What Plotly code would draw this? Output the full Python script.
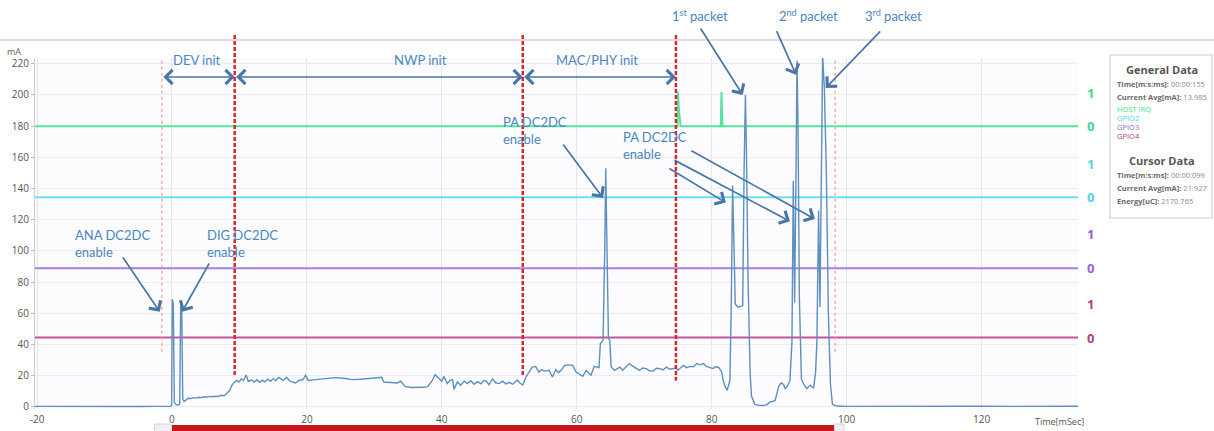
import plotly.graph_objects as go

# ---------------- data ----------------
t_ms = [-20.3, -17, -14, -11, -8, -5, -2.5, -0.2,
        -0.05, 0.05, 0.2, 0.35, 0.6, 0.9, 1.15, 1.3, 1.45, 1.6, 1.8,
        2.1, 2.4, 2.8, 3.2, 3.6, 4.0, 4.4, 4.8, 5.2, 5.6, 6.0, 6.4, 6.8, 7.3, 7.7, 8.1, 8.6, 8.9,
        9.2, 9.6, 9.9, 10.3, 10.6, 11.0, 11.3, 11.8, 12.2, 12.6, 13.0, 13.4, 13.8, 14.2, 14.6,
        15.0, 15.4, 15.8, 16.5, 17.0, 17.5, 18.3, 18.8, 19.4, 19.8, 20.2, 21, 22, 23, 24.2,
        25.5, 26.7, 28, 29.2, 30.3, 31.1, 31.4, 32.2, 33.0, 33.4, 33.9, 34.6, 35.5, 36.6, 37.3,
        37.9, 38.6, 39.0, 39.6, 40.0, 40.3, 40.8, 41.2, 41.6, 41.8, 42.3, 42.8, 43.3, 43.8, 44.3,
        44.8, 45.3, 45.8, 46.2, 46.6, 47.0, 47.5, 48.0, 48.5, 49.0, 49.5, 50.0, 50.5, 51.0, 51.2,
        51.6, 52.0, 52.5, 53.0, 53.4, 53.9, 54.4, 54.8, 55.2, 55.9, 56.4, 56.9, 57.3, 57.7, 58.2,
        58.8, 59.4, 59.9, 60.4, 60.9, 61.4, 62.1, 62.6, 63.3, 63.5, 63.9, 64.15, 64.3, 64.45, 64.7,
        64.9, 65.1, 65.6, 66.0, 66.4, 66.8, 67.3, 67.8, 68.2, 68.6, 69.3, 69.8, 70.3, 70.8, 71.3,
        71.8, 72.3, 72.8, 73.3, 73.8, 74.3, 74.7, 75.0, 75.4, 75.8, 76.3, 76.8, 77.3, 77.8, 78.3,
        78.8, 79.2, 79.5, 80.2, 80.6, 81.0, 81.5, 81.7, 82.0, 82.3, 82.7, 82.9, 83.1, 83.3, 83.5,
        83.9, 84.3, 84.6, 84.8, 85.0, 85.15, 85.4, 85.7, 85.9, 86.4, 87.0, 87.7, 88.2, 88.6, 89.0,
        89.4, 89.9, 90.2, 90.4, 90.7, 90.9, 91.2, 91.6, 91.9, 92.1, 92.3, 92.5, 92.65, 92.8, 93.0,
        93.3, 93.6, 94.1, 94.6, 95.1, 95.4, 95.6, 95.85, 96.05, 96.3, 96.45, 96.7, 97.0, 97.3, 97.6,
        97.9, 98.5, 100, 104, 108, 112, 116, 120, 124, 128, 132, 134.3]
current_ma = [0.4, 0.3, 0.5, 0.3, 0.4, 0.3, 0.4, 0.4,
              1, 69, 66, 3, 1.5, 1.2, 2, 67, 64, 5, 3.5,
              4.9, 5.6, 5.4, 6.0, 5.7, 6.2, 6.0, 6.5, 6.3, 6.8, 6.6, 6.9, 6.7, 7.5, 7.2, 8.5, 11, 14,
              15.6, 17, 16, 18, 17, 20.5, 16.5, 17.3, 16, 17.5, 15.8, 17.2, 16.1, 17.8, 16.4,
              18.2, 16.8, 19, 17, 19, 16.5, 15.4, 17, 17.6, 20.3, 17, 17.4, 17.8, 18.2, 18.8,
              18.4, 17.5, 17.8, 18.2, 18.5, 19, 16, 15.8, 15.2, 15.4, 16.5, 13, 12.5, 12.3, 12.6,
              13, 17, 20.7, 18, 16.5, 19.6, 15, 17, 17.5, 11.3, 16, 14, 16.5, 15, 16.8,
              14.5, 16.2, 14.8, 17, 16.5, 14.2, 18, 15.5, 15, 16.5, 14.8, 15.8, 14.6, 17, 17.3,
              15.2, 14.1, 19.4, 23, 25.6, 26, 22.4, 24, 23, 23.5, 19.2, 24, 22, 23.5, 26.7,
              27, 26.7, 22.4, 21, 19.7, 23.5, 20.3, 26.1, 25.2, 40.6, 42.7, 100, 153, 110, 44,
              42.7, 25.6, 23.5, 24.5, 25.6, 23.5, 26, 27.8, 26.5, 25.2, 23.5, 25, 24.6, 23.2, 23,
              24.8, 24.6, 23.8, 25.6, 24.2, 24.6, 25, 23.5, 25, 26.7, 25.2, 26, 25.8, 27.8, 27,
              27.8, 26, 25.6, 24.6, 25.8, 25.5, 22.4, 17.1, 13, 10.7, 17, 64, 142, 90, 66,
              64, 64.5, 65, 150, 200, 165, 80, 22, 7, 1.7, 1.0, 0.9, 1.5, 3.1, 3.5,
              4, 12.6, 15, 15.4, 14, 11.8, 13, 17, 42, 145, 67, 150, 222, 180, 70,
              18, 15, 11.8, 14, 12, 22, 42, 126, 64, 180, 225, 205, 150, 60, 15,
              1.7, 0.6, 0.4, 0.5, 0.4, 0.5, 0.4, 0.5, 0.4, 0.5, 0.4, 0.5]

host_irq_t = [-21, 74.95, 75.0, 75.15, 75.4, 81.35, 81.45, 81.6, 136]
host_irq_v = [180, 180, 202, 190, 180, 180, 202, 180, 180]
gpio_t = [-21, 136]
gpio2_v = [134.5, 134.5]
gpio3_v = [89, 89]
gpio4_v = [44.5, 44.5]

gpio_names = ["HOST IRQ", "GPIO2", "GPIO3", "GPIO4"]
gpio_colors = ["#55e3a0", "#6ae2e8", "#a47fe8", "#c4559c"]
gpio_label_colors = ["#3ddc8a", "#52d6df", "#9a5fe0", "#b23c8a"]
level0 = [180, 134.5, 89, 44.5]
level1 = [201, 156, 111, 66]

phase_bounds = [-1.5, 9.3, 52.0, 74.7]
phase_names = ["DEV init", "NWP init", "MAC/PHY init"]
phase_label_x = [3.7, 36.8, 63.0]
cursor_t = [-1.5, 98.3]
marker_t = [9.3, 52.0, 74.7]
marker_end_ma = [20, 20, 17]

x_ticks = [-20, 0, 20, 40, 60, 80, 100, 120]
x_tick_text = ["-20", "0", "20", "40", "60", "80", "100", "120"]
y_ticks = [0, 20, 40, 60, 80, 100, 120, 140, 160, 180, 200, 220]

# ---------------- layout geometry ----------------
W, H = 1214, 431
L, R, T, B = 35, 1078, 58, 409
XR = [-20.3, 134.3]
YR = [-1.3, 223.7]


def px(xp):
    return (xp - L) / (R - L)


def py(yp):
    return (B - yp) / (B - T)


def yv(v):
    return (v - YR[0]) / (YR[1] - YR[0])


ARROW = "#4a76a6"
TXT = "#4b86bd"
ANN_FONT = "Lato"

fig = go.Figure()

for v, c in zip([host_irq_v, gpio2_v, gpio3_v, gpio4_v], gpio_colors):
    tt = host_irq_t if v is host_irq_v else gpio_t
    fig.add_trace(go.Scatter(x=tt, y=v, mode="lines", line=dict(color=c, width=2),
                             hoverinfo="skip", showlegend=False))

fig.add_trace(go.Scatter(x=t_ms, y=current_ma, mode="lines",
                         line=dict(color="#5d8fc0", width=1.4), showlegend=False,
                         name="Current"))

shapes = []
# top border of panel
shapes.append(dict(type="line", xref="paper", yref="paper", x0=px(0), x1=px(W),
                   y0=py(40), y1=py(40), line=dict(color="#dedede", width=2)))
# red dashed phase markers
for t, e in zip(marker_t, marker_end_ma):
    shapes.append(dict(type="line", xref="x", yref="paper", x0=t, x1=t, y0=py(35), y1=yv(e),
                       line=dict(color="#d9262b", width=2.5, dash="4px,2px")))
# pale dotted cursors
for t in cursor_t:
    shapes.append(dict(type="line", xref="x", yref="y", x0=t, x1=t, y0=222, y1=35,
                       line=dict(color="#f19a9a", width=1.2, dash="dot")))
# navigator bar
shapes.append(dict(type="rect", xref="x", yref="paper", x0=0, x1=98.2, y0=py(425), y1=py(432),
                   fillcolor="#c8151c", line=dict(width=0)))
for a, b in [(-2.6, -0.1), (98.2, 99.6)]:
    shapes.append(dict(type="rect", xref="x", yref="paper", x0=a, x1=b, y0=py(424), y1=py(432),
                       fillcolor="#f0f0f0", line=dict(color="#d4d4d4", width=1)))
# info panel box
shapes.append(dict(type="rect", xref="paper", yref="paper", x0=px(1110), x1=px(1212),
                   y0=py(218), y1=py(55), fillcolor="white",
                   line=dict(color="#d0d0d0", width=1.2)))

annotations = []


def ann(**kw):
    kw.setdefault("xanchor", "center")
    kw.setdefault("yanchor", "middle")
    annotations.append(kw)


# phase labels and double arrows
for name, lx in zip(phase_names, phase_label_x):
    ann(text=name, x=lx, y=py(60), xref="x", yref="paper", showarrow=False,
        font=dict(family=ANN_FONT, size=13, color=TXT))
for a, b in zip(phase_bounds[:-1], phase_bounds[1:]):
    annotations.append(dict(text="", x=b, y=211.5, ax=a, ay=211.5, xref="x", yref="y",
                            axref="x", ayref="y", showarrow=True, arrowside="end+start",
                            arrowhead=4, startarrowhead=4, arrowsize=1.7, startarrowsize=1.7,
                            arrowwidth=1.6, arrowcolor=ARROW, standoff=0, startstandoff=0))

# callout texts
texts = [("ANA DC2DC<br>enable", -14.7, 104.5),
         ("DIG DC2DC<br>enable", 4.9, 104.5),
         ("PA DC2DC<br>enable", 48.8, 177),
         ("PA DC2DC<br>enable", 66.5, 167.3)]
for tx, x, y in texts:
    ann(text=tx, x=x, y=y, xref="x", yref="y", xanchor="left", align="left", showarrow=False,
        font=dict(family=ANN_FONT, size=13, color=TXT))
packets = [("1<sup>st</sup> packet", 78.3), ("2<sup>nd</sup> packet", 94.4),
           ("3<sup>rd</sup> packet", 106.9)]
for tx, x in packets:
    ann(text=tx, x=x, y=py(16), xref="x", yref="paper", showarrow=False,
        font=dict(family=ANN_FONT, size=13, color=TXT))

# callout arrows: head (data), tail offset (px)
arrows = [(-1.8, 61, -38, -56), (1.5, 61, 28, -50), (63.9, 134, -41, -55),
          (82.1, 131, -58, -35), (91.6, 119, -117, -62), (95.3, 120.5, -125, -69),
          (84.6, 200, -43, -68), (92.5, 213, -20, -45), (96.9, 204.5, 56, -58)]
for hx, hy, ox, oy in arrows:
    annotations.append(dict(text="", x=hx, y=hy, xref="x", yref="y", ax=ox, ay=oy,
                            showarrow=True, arrowhead=4, arrowsize=1.6, arrowwidth=1.7,
                            arrowcolor=ARROW, standoff=0))

# GPIO level labels on the right
for l0, l1, c in zip(level0, level1, gpio_label_colors):
    for lv, s in [(l0, "0"), (l1, "1")]:
        ann(text="<b>%s</b>" % s, x=px(1085), y=lv, xref="paper", yref="y",
            xanchor="left", showarrow=False, font=dict(family="Open Sans", size=13, color=c))

# axis unit labels
ann(text="mA", x=px(5), y=py(51), xref="paper", yref="paper", xanchor="left",
    showarrow=False, font=dict(family="Open Sans", size=9, color="#666"))
ann(text="Time[mSec]", x=px(1086), y=py(421), xref="paper", yref="paper", xanchor="right",
    showarrow=False, font=dict(family="Open Sans", size=9, color="#555"))

# info panel text
cx = px(1162)
ann(text="<b>General Data</b>", x=cx, y=py(69), xref="paper", yref="paper",
    showarrow=False, font=dict(family="Open Sans", size=11, color="#555"))
ann(text="<b>Cursor Data</b>", x=cx, y=py(160), xref="paper", yref="paper",
    showarrow=False, font=dict(family="Open Sans", size=11, color="#555"))
info_lines = [("Time[m:s:ms]:", "00:00:155", 84), ("Current Avg[mA]:", "13.985", 97),
              ("Time[m:s:ms]:", "00:00:099", 175), ("Current Avg[mA]:", "21.927", 188),
              ("Energy[uC]:", "2170.765", 201)]
for lab, val, yy in info_lines:
    ann(text="<b>%s</b> <span style='color:#8a8a8a'>%s</span>" % (lab, val),
        x=px(1115), y=py(yy), xref="paper", yref="paper", xanchor="left",
        showarrow=False, font=dict(family="Open Sans", size=7.5, color="#6a6a6a"))
for i, nm in enumerate(gpio_names):
    ann(text=nm, x=px(1115), y=py(109 + 9 * i), xref="paper", yref="paper",
        xanchor="left", showarrow=False,
        font=dict(family="Open Sans", size=7.5, color=gpio_label_colors[i]))

fig.update_layout(
    width=W, height=H,
    margin=dict(l=L, r=W - R, t=T, b=H - B, autoexpand=False),
    paper_bgcolor="white", plot_bgcolor="#fcfcff",
    shapes=shapes, annotations=annotations,
    font=dict(family="Open Sans", size=10, color="#555"),
    xaxis=dict(range=XR, tickvals=x_ticks, ticktext=x_tick_text, showgrid=True,
               gridcolor="#e6e6ea", zeroline=False, showline=False, ticks="",
               automargin=False, ticklabelstandoff=3, tickfont=dict(size=10, color="#555")),
    yaxis=dict(range=YR, tickvals=y_ticks, showgrid=True, gridcolor="#ececf0", zeroline=False,
               showline=True, linecolor="#cfcfcf", ticks="outside", ticklen=3, tickcolor="#bbb",
               automargin=False, tickfont=dict(size=10, color="#555")),
)

fig.write_html("out.html")
